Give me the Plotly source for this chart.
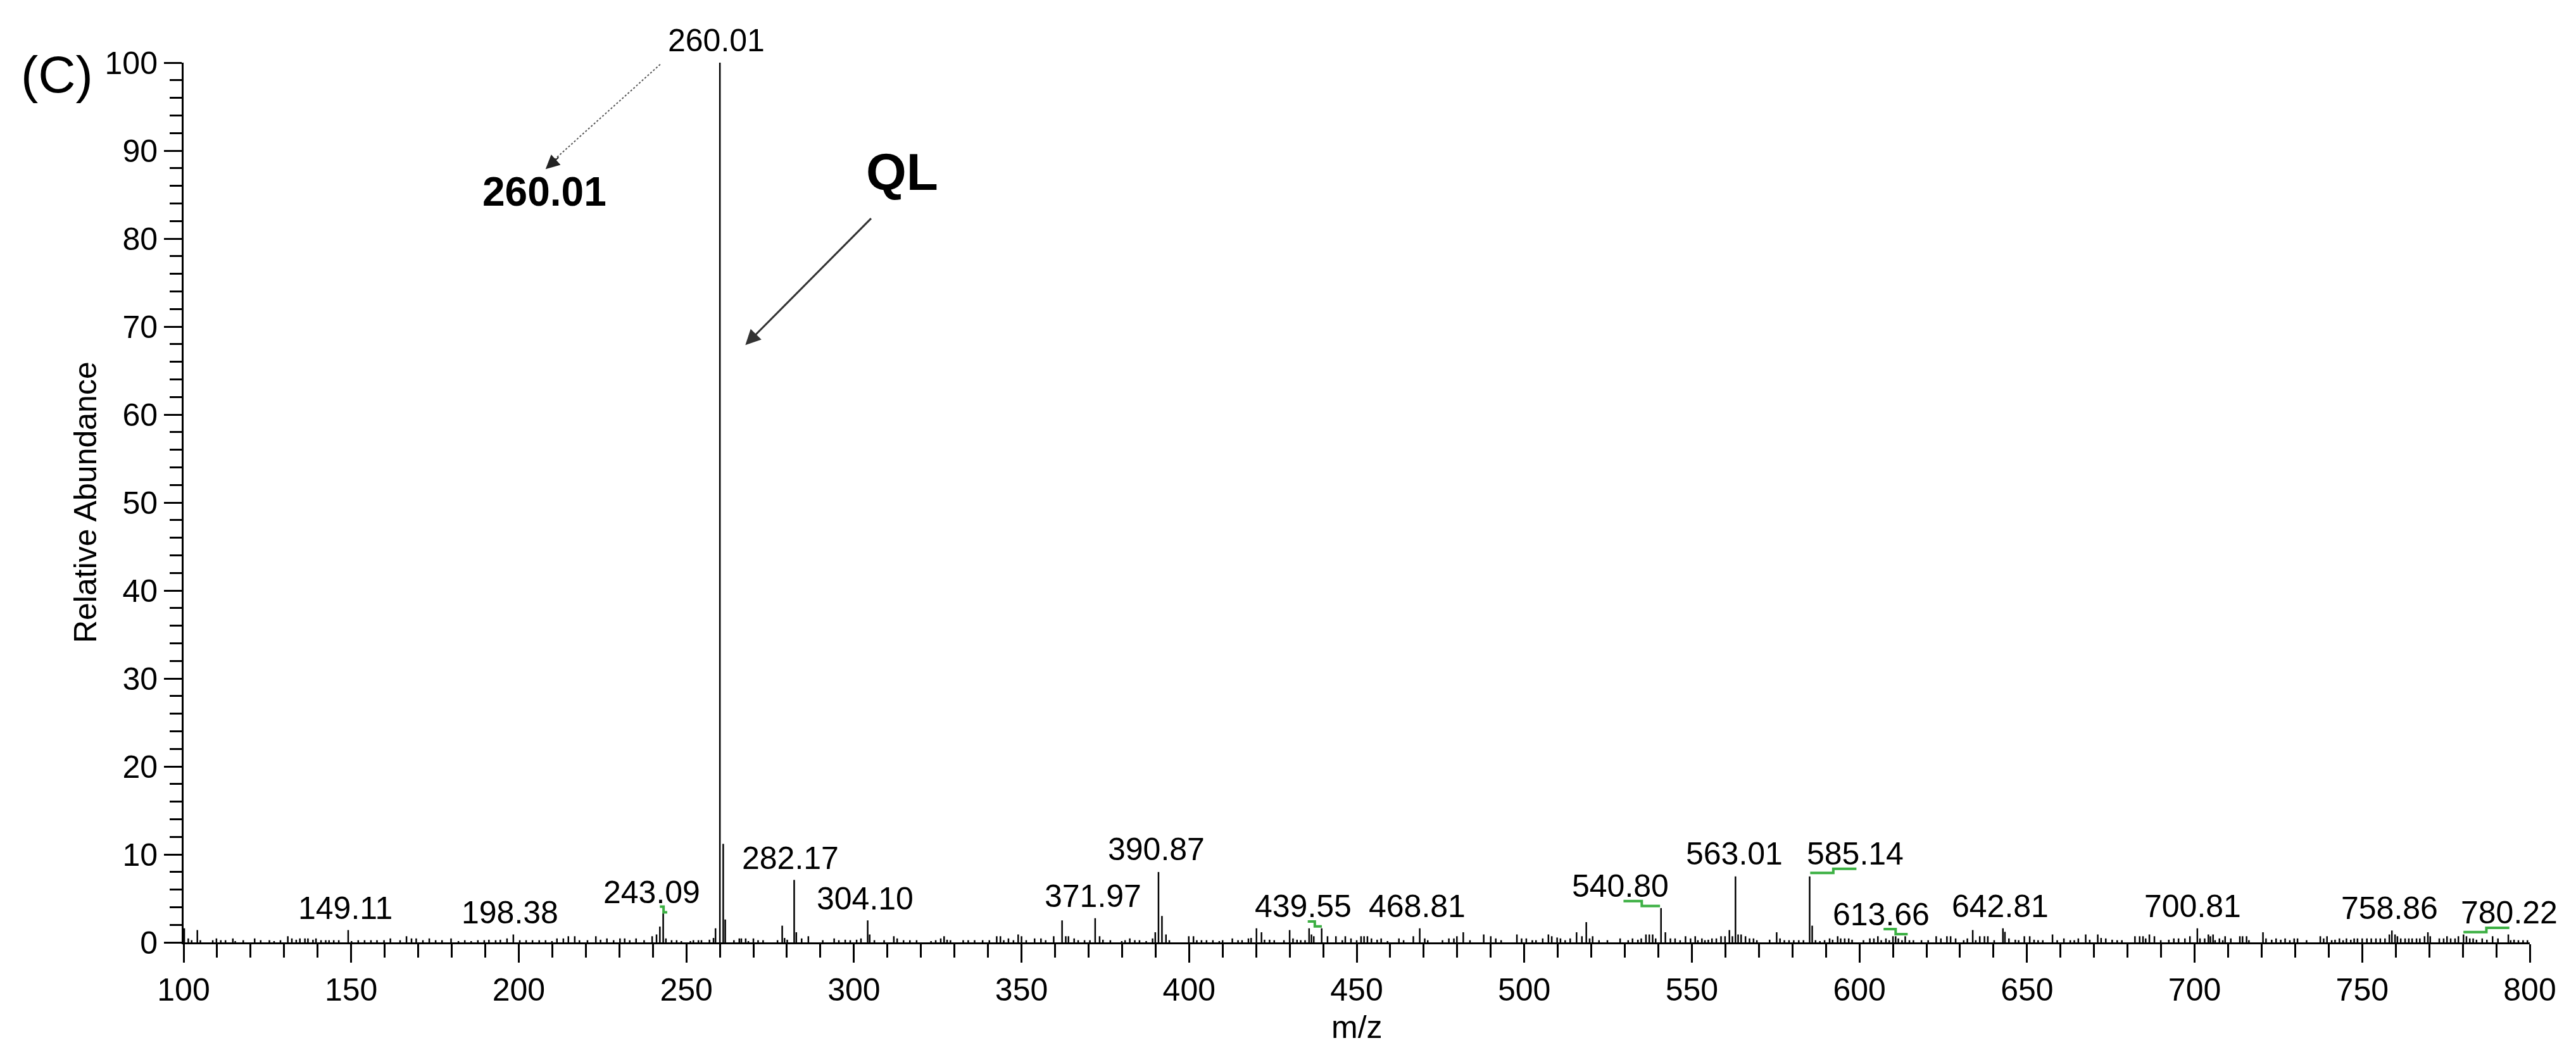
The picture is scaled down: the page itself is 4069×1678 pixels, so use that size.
import plotly.graph_objects as go

# ---------------- data (m/z, relative abundance %) ----------------
labeled_mz = [149.11, 198.38, 243.09, 260.01, 282.17, 304.10, 371.97, 390.87, 439.55,
              468.81, 540.80, 563.01, 585.14, 613.66, 642.81, 700.81, 758.86, 780.22]
labeled_int = [1.4, 0.9, 3.3, 100.0, 7.1, 2.5, 2.75, 8.0, 1.6,
               1.6, 3.9, 7.5, 7.5, 0.7, 1.6, 1.6, 1.35, 0.9]

noise_mz_a = [100.2, 101.4, 102.4, 104.1, 105.0, 108.7, 109.8, 111.1, 112.5, 114.7,
              115.4, 117.8, 121.2, 123.0, 125.6, 127.0, 128.9, 131.1, 132.3, 133.6,
              134.7, 136.2, 137.1, 138.6, 139.5, 141.0, 142.4, 143.4, 144.8, 146.3,
              150.1, 152.1, 154.0, 155.9, 157.7, 159.8, 161.7, 164.6, 166.5, 168.0,
              169.4, 171.4, 173.3, 175.2, 177.1, 179.8, 182.0, 183.9, 185.8, 187.8,
              189.7, 191.1, 193.1, 194.5, 196.5,
              200.3, 202.2, 204.1, 206.1, 208.0, 209.9, 211.4, 213.3, 214.8, 216.7,
              218.1, 220.5, 223.0, 224.4, 226.3, 228.3, 230.2, 231.6, 233.1, 235.0,
              237.4, 239.8, 241.1, 242.1, 243.9, 245.6, 247.1, 248.5]
noise_int_a = [1.6, 0.45, 0.25, 1.4, 0.25, 0.25, 0.45, 0.25, 0.25, 0.45,
               0.15, 0.25, 0.45, 0.25, 0.25, 0.15, 0.25, 0.7, 0.45, 0.3,
               0.45, 0.45, 0.45, 0.3, 0.45, 0.25, 0.25, 0.25, 0.25, 0.25,
               0.15, 0.25, 0.25, 0.25, 0.25, 0.25, 0.45, 0.25, 0.7, 0.45,
               0.45, 0.25, 0.45, 0.25, 0.25, 0.45, 0.15, 0.25, 0.15, 0.25,
               0.25, 0.3, 0.25, 0.3, 0.45,
               0.25, 0.25, 0.25, 0.25, 0.25, 0.15, 0.45, 0.45, 0.7, 0.7,
               0.25, 0.25, 0.7, 0.3, 0.45, 0.25, 0.45, 0.45, 0.25, 0.45,
               0.25, 0.7, 0.9, 1.8, 0.45, 0.25, 0.25, 0.15]

noise_mz_b = [251.2, 252.1, 253.6, 254.5, 256.9, 258.1, 258.7, 261.0, 261.6, 264.2,
              265.8, 266.4, 267.7, 268.5, 270.0, 271.4, 272.9, 277.2, 278.6, 279.3,
              280.1, 282.8, 284.4, 286.4, 290.7, 294.1, 295.5, 297.4, 298.9,
              300.8, 302.1, 304.7, 306.1, 309.0, 311.9, 312.9, 314.8, 316.7, 318.7,
              323.0, 324.4, 325.9, 326.9, 327.8, 328.8, 332.6, 334.1, 336.0, 338.4,
              340.4, 342.6, 343.7, 344.7, 346.1, 347.6, 349.0,
              350.0, 351.4, 353.9, 355.8, 357.2, 359.6, 362.1, 363.2, 364.0, 365.7,
              366.9, 368.8, 370.4, 373.3, 374.3, 376.5, 379.9, 380.9, 382.3, 383.8,
              385.2, 387.2, 389.1, 389.9, 391.9, 393.1, 394.1, 399.9]
noise_int_b = [0.15, 0.25, 0.25, 0.25, 0.3, 0.5, 1.6, 11.2, 2.6, 0.25,
               0.45, 0.45, 0.45, 0.15, 0.45, 0.25, 0.25, 0.25, 1.9, 0.5,
               0.3, 1.15, 0.45, 0.7, 0.25, 0.45, 0.25, 0.3, 0.25,
               0.3, 0.45, 0.9, 0.25, 0.25, 0.7, 0.45, 0.25, 0.25, 0.25,
               0.15, 0.25, 0.45, 0.7, 0.3, 0.25, 0.25, 0.25, 0.25, 0.25,
               0.25, 0.7, 0.7, 0.25, 0.45, 0.25, 0.9,
               0.7, 0.25, 0.45, 0.45, 0.25, 0.7, 2.5, 0.7, 0.7, 0.45,
               0.25, 0.25, 0.25, 0.7, 0.3, 0.25, 0.15, 0.25, 0.45, 0.25,
               0.25, 0.15, 0.45, 1.15, 3.0, 0.9, 0.25, 0.7]

noise_mz_c = [401.3, 402.3, 403.7, 405.2, 407.1, 409.0, 410.0, 412.9, 414.6, 415.8,
              417.7, 418.5, 420.1, 421.6, 422.5, 424.0, 425.4, 428.3, 430.0, 431.0,
              432.2, 433.3, 434.6, 435.8, 436.5, 437.2, 441.3, 443.8, 445.7, 446.6,
              448.3,
              450.0, 451.3, 452.2, 453.2, 454.4, 456.1, 457.3, 459.2, 462.6, 464.0,
              466.9, 470.3, 471.2, 475.6, 477.5, 479.0, 479.9, 481.8, 483.8, 487.9,
              490.0, 491.5, 493.1, 497.8, 499.2,
              500.6, 502.4, 503.5, 505.5, 507.2, 508.2, 509.8, 510.8, 512.2, 513.7,
              515.6, 517.2, 518.5, 519.5, 520.4, 522.3, 524.8, 528.6, 531.0, 532.3,
              533.9, 534.9, 536.3, 537.3, 538.3, 539.2, 542.1, 543.6, 545.0, 546.5,
              548.1, 549.6]
noise_int_c = [0.7, 0.25, 0.25, 0.25, 0.25, 0.15, 0.25, 0.45, 0.25, 0.25,
               0.45, 0.5, 1.6, 1.15, 0.3, 0.3, 0.25, 0.25, 1.4, 0.45,
               0.3, 0.25, 0.25, 1.6, 0.9, 0.7, 0.7, 0.7, 0.25, 0.7,
               0.45,
               0.25, 0.7, 0.7, 0.7, 0.45, 0.3, 0.45, 0.15, 0.45, 0.25,
               0.7, 0.45, 0.25, 0.25, 0.45, 0.45, 0.7, 1.15, 0.25, 0.9,
               0.7, 0.45, 0.25, 0.9, 0.45,
               0.45, 0.25, 0.25, 0.45, 0.9, 0.7, 0.55, 0.45, 0.25, 0.45,
               1.15, 0.7, 2.3, 0.45, 0.7, 0.25, 0.25, 0.45, 0.25, 0.45,
               0.3, 0.45, 0.9, 0.9, 0.9, 0.45, 1.15, 0.45, 0.45, 0.25,
               0.7, 0.45]

noise_mz_d = [551.0, 551.8, 553.0, 553.9, 554.9, 556.0, 557.3, 558.7, 559.9, 561.2,
              562.1, 563.8, 564.7, 566.0, 567.2, 568.4, 569.4, 573.2, 575.3, 576.3,
              577.6, 579.0, 580.4, 581.9, 583.3, 585.9, 586.9, 588.2, 589.6, 591.1,
              592.0, 593.5, 594.4, 595.6, 596.8, 597.8,
              601.2, 603.1, 604.3, 605.5, 606.5, 607.9, 608.9, 610.0, 610.8, 611.6,
              612.7, 614.9, 616.1, 618.5, 620.5, 622.9, 624.3, 626.1, 627.2, 628.7,
              631.1, 632.2, 633.8, 634.7, 635.9, 637.3, 638.3, 640.2, 643.4, 644.6,
              646.5, 647.5, 649.2,
              650.8, 652.1, 653.3, 654.7, 657.6, 659.0, 661.0, 662.9, 664.1, 665.3,
              667.5, 668.7, 671.1, 672.1, 673.5, 675.4, 676.9, 678.3, 682.2, 683.6,
              684.6, 685.4, 686.5, 688.0, 689.9, 692.3, 693.8, 695.2, 697.1, 698.6,
              701.6]
noise_int_d = [0.7, 0.25, 0.45, 0.25, 0.3, 0.45, 0.45, 0.7, 0.7, 1.4,
               0.7, 0.9, 0.9, 0.7, 0.45, 0.45, 0.25, 0.3, 1.15, 0.45,
               0.25, 0.25, 0.25, 0.25, 0.25, 1.9, 0.25, 0.15, 0.25, 0.45,
               0.3, 0.7, 0.45, 0.45, 0.45, 0.3,
               0.25, 0.45, 0.45, 0.7, 0.25, 0.45, 0.25, 0.7, 0.7, 0.45,
               0.25, 0.25, 0.25, 0.25, 0.25, 0.7, 0.45, 0.7, 0.7, 0.45,
               0.25, 0.45, 1.4, 0.25, 0.7, 0.7, 0.7, 0.25, 1.2, 0.45,
               0.3, 0.25, 0.7,
               0.7, 0.3, 0.25, 0.25, 0.9, 0.25, 0.45, 0.25, 0.25, 0.45,
               0.9, 0.3, 0.9, 0.5, 0.45, 0.3, 0.25, 0.25, 0.7, 0.7,
               0.7, 0.45, 0.9, 0.7, 0.25, 0.3, 0.45, 0.45, 0.45, 0.7,
               0.45]

noise_mz_e = [703.0, 704.1, 704.7, 705.5, 706.1, 707.4, 708.4, 709.1, 710.8, 713.5,
              714.3, 715.5, 716.2, 720.4, 721.3, 723.0, 724.3, 725.7, 727.0, 728.4,
              729.7, 730.7, 733.4, 737.5, 738.5, 739.5, 740.9, 741.9, 743.2, 744.3,
              745.3, 746.6, 747.6, 748.6,
              750.0, 751.4, 752.7, 754.1, 755.4, 756.8, 758.1, 759.8, 760.5, 761.5,
              762.8, 763.9, 764.9, 766.2, 767.2, 768.6, 769.6, 770.3, 773.0, 774.3,
              775.3, 776.4, 777.7, 778.7, 781.1, 782.1, 783.1, 784.1, 785.8, 787.2,
              788.9, 790.5, 793.6, 794.3, 795.3, 796.6, 798.0, 799.3]
noise_int_e = [0.45, 0.9, 0.7, 0.9, 0.25, 0.45, 0.25, 0.7, 0.45, 0.7,
               0.7, 0.7, 0.25, 1.15, 0.45, 0.3, 0.45, 0.3, 0.45, 0.25,
               0.45, 0.45, 0.25, 0.7, 0.45, 0.7, 0.25, 0.3, 0.45, 0.25,
               0.45, 0.3, 0.45, 0.45,
               0.45, 0.45, 0.45, 0.45, 0.45, 0.45, 0.9, 0.9, 0.7, 0.45,
               0.45, 0.45, 0.45, 0.45, 0.45, 0.7, 1.15, 0.7, 0.45, 0.45,
               0.7, 0.45, 0.45, 0.7, 0.7, 0.45, 0.45, 0.3, 0.45, 0.3,
               0.7, 0.45, 0.9, 0.25, 0.3, 0.25, 0.25, 0.25]

noise_mz = noise_mz_a + noise_mz_b + noise_mz_c + noise_mz_d + noise_mz_e
noise_int = noise_int_a + noise_int_b + noise_int_c + noise_int_d + noise_int_e
assert len(noise_mz) == len(noise_int)
assert len(labeled_mz) == len(labeled_int)

x_ticks = [100, 150, 200, 250, 300, 350, 400, 450, 500, 550, 600, 650, 700, 750, 800]
y_ticks = [0, 10, 20, 30, 40, 50, 60, 70, 80, 90, 100]

# label placement (text centre): x in axis units, y in axis units
# (None -> placed above the plot area, in paper units via label_y_paper)
label_x = [148.2, 197.4, 239.7, 259.0, 281.0, 303.4, 371.4, 390.3, 434.1,
           468.0, 528.6, 562.6, 598.8, 606.4, 642.0, 699.4, 758.1, 793.9]
label_y = [3.9, 3.4, 5.7, None, 9.6, 4.96, 5.25, 10.6, 4.1,
           4.1, 6.4, 10.1, 10.1, 3.2, 4.1, 4.1, 3.9, 3.4]
label_y_paper = 1.025

# green label leader marks (start/end in axis units)
green_x0 = [242.1, 435.4, 529.6, 585.3, 607.2, 780.2]
green_y0 = [4.06, 2.37, 4.70, 7.90, 1.51, 1.17]
green_x1 = [244.3, 439.6, 540.5, 599.1, 614.4, 793.9]
green_y1 = [3.41, 1.82, 4.13, 8.37, 0.94, 1.66]

FONT = "Arial, Liberation Sans, sans-serif"

# ---------------- build stick spectrum ----------------
all_mz = noise_mz + labeled_mz
all_int = noise_int + labeled_int
sx, sy = [], []
for m, h in zip(all_mz, all_int):
    sx += [m, m, None]
    sy += [0, h, None]

fig = go.Figure()
fig.add_trace(go.Scatter(x=sx, y=sy, mode="lines",
                         line=dict(color="black", width=2.5),
                         hoverinfo="skip", showlegend=False, cliponaxis=False))

for x0, y0, x1, y1 in zip(green_x0, green_y0, green_x1, green_y1):
    fig.add_trace(go.Scatter(x=[x0, x1], y=[y0, y1], mode="lines",
                             line=dict(color="#3cb043", width=4, shape="hvh"),
                             hoverinfo="skip", showlegend=False))

annotations = []
for txt_mz, lx, ly in zip(labeled_mz, label_x, label_y):
    if ly is None:
        annotations.append(dict(x=lx, y=label_y_paper, xref="x", yref="paper",
                                text=f"{txt_mz:.2f}", showarrow=False,
                                xanchor="center", yanchor="middle",
                                font=dict(family=FONT, size=50, color="black")))
    else:
        annotations.append(dict(x=lx, y=ly, xref="x", yref="y", text=f"{txt_mz:.2f}",
                                showarrow=False, xanchor="center", yanchor="middle",
                                font=dict(family=FONT, size=50, color="black")))

# y-axis title
annotations.append(dict(x=-0.0418, y=0.5, xref="paper", yref="paper",
                        text="Relative Abundance", textangle=-90, showarrow=False,
                        xanchor="center", yanchor="middle",
                        font=dict(family=FONT, size=50, color="black")))
# x-axis title
annotations.append(dict(x=0.5, y=-0.0964, xref="paper", yref="paper", text="m/z",
                        showarrow=False, xanchor="center", yanchor="middle",
                        font=dict(family=FONT, size=50, color="black")))
# panel tag
annotations.append(dict(x=-0.054, y=0.987, xref="paper", yref="paper", text="(C)",
                        showarrow=False, xanchor="center", yanchor="middle",
                        font=dict(family=FONT, size=82, color="black")))
# bold callout
annotations.append(dict(x=207.7, y=85.3, xref="x", yref="y", text="<b>260.01</b>",
                        showarrow=False, xanchor="center", yanchor="middle",
                        font=dict(family=FONT, size=64, color="black")))
annotations.append(dict(x=314.4, y=87.6, xref="x", yref="y", text="<b>QL</b>",
                        showarrow=False, xanchor="center", yanchor="middle",
                        font=dict(family=FONT, size=82, color="black")))
# QL arrow
annotations.append(dict(x=267.6, y=67.9, xref="x", yref="y", text="",
                        showarrow=True, ax=305.4, ay=82.4, axref="x", ayref="y",
                        arrowhead=2, arrowsize=1.6, arrowwidth=3, arrowcolor="#333333"))
# dotted callout arrow head
annotations.append(dict(x=208.0, y=87.9, xref="x", yref="y", text="",
                        showarrow=True, ax=22, ay=-20,
                        arrowhead=2, arrowsize=2.2, arrowwidth=2, arrowcolor="#222222"))

shapes = [dict(type="line", xref="x", yref="y", x0=242.2, y0=99.8, x1=209.5, y1=88.6,
               line=dict(color="#555555", width=2, dash="dot"))]

axis_common = dict(showgrid=False, zeroline=False, showline=True, linecolor="black",
                   linewidth=3, ticks="outside", tickcolor="black", tickwidth=3,
                   tickfont=dict(family=FONT, size=50, color="black"))

fig.update_layout(
    width=4069, height=1678,
    margin=dict(l=290, r=73, t=99, b=189, pad=0),
    paper_bgcolor="white", plot_bgcolor="white",
    showlegend=False,
    annotations=annotations,
    shapes=shapes,
    xaxis=dict(range=[100, 800], tickmode="array", tickvals=x_ticks,
               ticktext=[str(v) for v in x_ticks], ticklen=29,
               minor=dict(dtick=10, tick0=100, ticks="outside", ticklen=21,
                          tickwidth=3, tickcolor="black", showgrid=False),
               **axis_common),
    yaxis=dict(range=[0, 100], tickmode="array", tickvals=y_ticks,
               ticktext=[str(v) for v in y_ticks], ticklen=28,
               minor=dict(dtick=2, tick0=0, ticks="outside", ticklen=19,
                          tickwidth=3, tickcolor="black", showgrid=False),
               **axis_common),
)

fig.write_html("out.html", config={"displayModeBar": False},
               post_script="document.body.style.margin='0';")
